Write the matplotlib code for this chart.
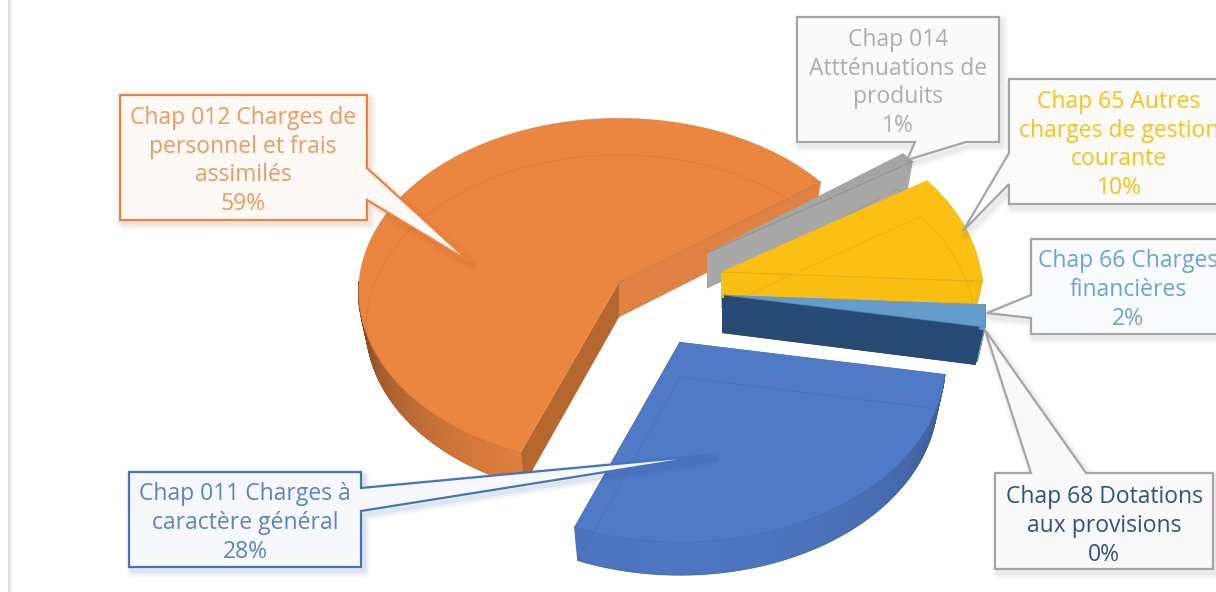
import numpy as np
import matplotlib
matplotlib.use("Agg")
import matplotlib.pyplot as plt
from matplotlib.patches import Polygon
from matplotlib.colors import to_rgb

plt.rcParams['font.family'] = ['Open Sans', 'DejaVu Sans']

# data
chapters = ['Chap 011', 'Chap 012', 'Chap 014', 'Chap 65', 'Chap 66', 'Chap 68']
shares = [28, 59, 1, 10, 2, 0]
label_texts = [
    'Chap 011 Charges à\ncaractère général\n28%',
    'Chap 012 Charges de\npersonnel et frais\nassimilés\n59%',
    'Chap 014\nAttténuations de\nproduits\n1%',
    'Chap 65 Autres\ncharges de gestion\ncourante\n10%',
    'Chap 66 Charges\nfinancières\n2%',
    'Chap 68 Dotations\naux provisions\n0%',
]

# styling, one entry per slice
top_colors = ['#5079C6', '#EB8640', '#A5A5A5', '#FBC011', '#659CCB', '#264A73']
start_wall = ['#5079C6', '#B5672E', '#A5A5A5', '#FBC011', '#659CCB', '#264A73']
end_wall = ['#5079C6', '#DF8243', '#A8A8A8', '#F8BE12', '#264A73', '#264A73']
wall_floor = [0.65, 0.42, 1.0, 0.97, 1.0, 1.0]
text_colors = ['#5B82CC', '#F09A60', '#ADADAD', '#FFC20E', '#6AA3DB', '#34508A']
border_colors = ['#4472C4', '#F47F3A', '#A5A5A5', '#A5A5A5', '#A5A5A5', '#A5A5A5']
box_fill = ['#F6F8FB', '#FCF9F7', '#FAFAFA', '#FBFBFB', '#FAFBFC', '#F9F9FA']

apex = [(680, 342), (619, 282), (707, 253), (721, 272), (724, 295), (722, 298)]
squash = [1.0, 0.972, 1.0, 1.0, 1.0, 1.0]
persp = [0.11, 0.057, 0.11, 0.11, 0.11, 0.11]
stretch = [1.015, 1.0, 1.0, 1.0, 1.0, 1.0]
draw_order = [1, 2, 3, 4, 5, 0]

# box: left, top, right, bottom; pointer: base on box edge, tip, base
boxes = [(129, 472, 361, 567), (120, 95, 367, 220), (797, 17, 999, 142),
         (1009, 79, 1240, 204), (1031, 239, 1240, 334), (995, 473, 1213, 569)]
pointers = [
    [(361, 488), (712, 455), (361, 511)],
    [(367, 168), (470, 262), (367, 200)],
    [(966, 142), (907, 160), (915, 142)],
    [(1009, 153), (963, 231), (1009, 184)],
    [(1031, 295), (987, 313), (1031, 318)],
    [(1031, 473), (985, 330), (1086, 473)],
]
text_centers = [(245, 523), (243, 161), (898, 83), (1119, 145), (1128, 290), (1104, 526)]

RX, RY = 260, 178
DEPTH = 35
SHRINK_X = 0.97
SHRINK_Y = 0.99
START_ANGLE = 10.2


def rim(theta, i, bottom=False):
    cx, cy = apex[i]
    t = np.radians(theta)
    u, v = np.cos(t), np.sin(t)
    s = 1 / (1 - persp[i] * v)
    sx, sy = s * stretch[i], s * squash[i]
    if bottom:
        sx, sy = sx * SHRINK_X, sy * SHRINK_Y
        cy = cy + DEPTH
    return np.column_stack([cx + RX * u * sx, cy + RY * v * sy])


def shade(col, f):
    return tuple(min(c * f, 1) for c in to_rgb(col))


fig = plt.figure(figsize=(12.16, 5.92), dpi=100)
ax = fig.add_axes([0, 0, 1, 1])
ax.set_xlim(0, 1216)
ax.set_ylim(592, 0)
ax.axis('off')

ax.axvspan(8, 11, color='#E2E2E2', lw=0)

angles = np.array(shares) / sum(shares) * 360
starts = START_ANGLE + np.concatenate([[0], np.cumsum(angles)[:-1]])

for i in draw_order:
    cx, cy = apex[i]
    a0, a1 = starts[i], starts[i] + angles[i]
    th = np.linspace(a0, a1, max(int(angles[i] * 2), 2))
    top = rim(th, i)
    low = rim(th, i, bottom=True)
    c_top = (cx, cy)
    c_low = (cx, cy + DEPTH)

    # radial walls
    ax.add_patch(Polygon([c_top, top[0], low[0], c_low], fc=start_wall[i], ec='none', zorder=2))
    ax.add_patch(Polygon([c_top, top[-1], low[-1], c_low], fc=end_wall[i], ec='none', zorder=2))

    # outer wall in narrow strips, darker where it turns sideways
    for k in range(len(th) - 1):
        sn = np.sin(np.radians(th[k]))
        if sn < 0:
            continue
        f = wall_floor[i] + (0.97 - wall_floor[i]) * abs(sn) ** 0.8
        col = shade(top_colors[i], f)
        ax.add_patch(Polygon([top[k], top[k + 1], low[k + 1], low[k]], fc=col, ec=col, lw=0.8, zorder=2))

    if angles[i] > 0:
        ax.add_patch(Polygon(np.vstack([c_top, top]), fc=top_colors[i], ec='none', zorder=2))
        # faint far edges seen through the slice
        line_col = shade(top_colors[i], 0.8)
        edge = np.vstack([[c_low], low])
        ax.plot(edge[:, 0], edge[:, 1], color=line_col, lw=0.7, alpha=0.3, zorder=2)
        ax.plot([c_low[0], low[-1, 0]], [c_low[1], low[-1, 1]], color=line_col, lw=0.7, alpha=0.3, zorder=2)
        ax.plot([cx, top[-1, 0]], [cy, top[-1, 1]], color=shade(top_colors[i], 0.85), lw=0.8, alpha=0.7, zorder=2)
        ax.plot(top[:, 0], top[:, 1], color=shade(top_colors[i], 0.85), lw=0.5, alpha=0.5, zorder=2)

# callouts
for i in range(len(chapters)):
    l, t, r, b = boxes[i]
    pa, tip, pb = pointers[i]
    # walk round the box and splice the pointer into the edge it leaves from
    if pa[0] == r:
        outline = [(l, t), (r, t), pa, tip, pb, (r, b), (l, b)]
    elif pa[0] == l:
        outline = [(l, t), (r, t), (r, b), (l, b), pb, tip, pa]
    elif pa[1] == t:
        outline = [(l, t), pa, tip, pb, (r, t), (r, b), (l, b)]
    else:
        outline = [(l, t), (r, t), (r, b), pa, tip, pb, (l, b)]
    outline = np.array(outline, dtype=float)
    for lw, al in [(9, 0.03), (6, 0.05), (3, 0.07)]:
        ax.add_patch(Polygon(outline + [3, 4], fc='none', ec=shade(border_colors[i], 0.7), lw=lw,
                             alpha=al, zorder=3, joinstyle='round'))
    ax.add_patch(Polygon(outline, fc=box_fill[i], ec=border_colors[i], lw=1.6, zorder=4, joinstyle='miter'))
    ax.text(text_centers[i][0], text_centers[i][1], label_texts[i], color=text_colors[i],
            fontsize=16.5, ha='center', va='center', linespacing=1.27, zorder=5)

fig.savefig('out.png', dpi=100, facecolor='white')
